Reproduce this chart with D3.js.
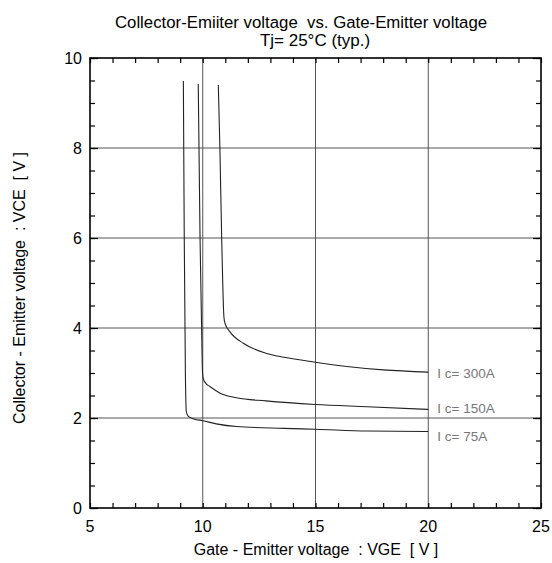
<!DOCTYPE html>
<html lang="en">
<head>
<meta charset="UTF-8">
<title>Collector-Emitter voltage vs. Gate-Emitter voltage</title>
<script src="https://cdn.jsdelivr.net/npm/d3@7"></script>
<style>
  body { margin: 0; background: #fff; }
  svg text { font-family: 'Liberation Sans', Arial, sans-serif; fill: #000; }
  .grid line { stroke: #555; stroke-width: 1; }
  .curve { fill: none; stroke: #222; stroke-width: 1.1; }
  .lbl { fill: #777; font-size: 13.5px; }
</style>
</head>
<body>
<svg id="chart" width="552" height="563"></svg>
<script>
// values: [VGE, VCE]
const curve75 = [[9.14,9.49],[9.18,6.0],[9.23,3.0],[9.27,2.15],[9.35,2.04],[9.6,1.98],[10.0,1.94],
  [10.6,1.87],[11.5,1.81],[13.6,1.77],[15.0,1.75],[17.3,1.71],[20,1.70]];
const curve150 = [[9.80,9.42],[9.88,6.0],[9.95,4.0],[9.99,3.0],[10.02,2.88],[10.12,2.78],[10.32,2.70],
  [10.77,2.55],[11.5,2.45],[12.8,2.38],[15.0,2.30],[17.3,2.25],[20,2.19]];
const curve300 = [[10.69,9.40],[10.76,8.0],[10.84,6.0],[10.94,4.24],[10.99,4.1],[11.2,3.92],[11.8,3.66],
  [12.8,3.44],[13.6,3.35],[15.0,3.24],[16.5,3.14],[18.0,3.07],[20,3.02]];
const curveNames = ["I c= 300A", "I c= 150A", "I c= 75A"];
const labelVce = [3.0, 2.22, 1.6];
const xTicks = [5, 10, 15, 20, 25];
const yTicks = [0, 2, 4, 6, 8, 10];

const svg = d3.select("#chart");
const x = d3.scaleLinear().domain([5, 25]).range([90, 541]);
const y = d3.scaleLinear().domain([0, 10]).range([508, 58]);

// grid
const grid = svg.append("g").attr("class", "grid");
grid.selectAll(".gx").data(xTicks.slice(1, -1)).join("line")
  .attr("x1", d => x(d)).attr("x2", d => x(d)).attr("y1", y(0)).attr("y2", y(10));
grid.selectAll(".gy").data(yTicks.slice(1, -1)).join("line")
  .attr("y1", d => y(d)).attr("y2", d => y(d)).attr("x1", x(5)).attr("x2", x(25));

// inward ticks on all four sides
const minorX = d3.range(5, 25.01, 1), minorY = d3.range(0, 10.01, 0.5);
function ticks(g, axis, vals, size) {
  g.call(axis.tickValues(vals).tickSize(-size).tickFormat(""));
  g.select(".domain").remove();
  g.selectAll("line").attr("stroke", "#000").attr("stroke-width", 1.2);
}
svg.append("g").attr("transform", `translate(0,${y(0)})`).call(g => ticks(g, d3.axisBottom(x), minorX, 5));
svg.append("g").attr("transform", `translate(0,${y(10)})`).call(g => ticks(g, d3.axisTop(x), minorX, 5));
svg.append("g").attr("transform", `translate(${x(5)},0)`).call(g => ticks(g, d3.axisLeft(y), minorY, 5));
svg.append("g").attr("transform", `translate(${x(25)},0)`).call(g => ticks(g, d3.axisRight(y), minorY, 5));
svg.append("g").attr("transform", `translate(${x(5)},0)`).call(g => ticks(g, d3.axisLeft(y), yTicks, 8));
svg.append("g").attr("transform", `translate(${x(25)},0)`).call(g => ticks(g, d3.axisRight(y), yTicks, 8));

// frame
svg.append("rect").attr("x", x(5)).attr("y", y(10))
  .attr("width", x(25) - x(5)).attr("height", y(0) - y(10))
  .attr("fill", "none").attr("stroke", "#000").attr("stroke-width", 1.6);

// tick labels
svg.selectAll(".xl").data(xTicks).join("text")
  .attr("x", d => x(d)).attr("y", 532).attr("text-anchor", "middle")
  .attr("font-size", 16).text(d => d);
svg.selectAll(".yl").data(yTicks).join("text")
  .attr("x", 82).attr("y", d => y(d) + 6).attr("text-anchor", "end")
  .attr("font-size", 16).text(d => d);

// curves
const line = d3.line().x(d => x(d[0])).y(d => y(d[1])).curve(d3.curveMonotoneX);
svg.selectAll(".curve").data([curve300, curve150, curve75]).join("path")
  .attr("class", "curve").attr("d", line);

svg.selectAll(".lbl").data(curveNames).join("text")
  .attr("class", "lbl").attr("x", x(20.4)).attr("y", (d, i) => y(labelVce[i]) + 5)
  .text(d => d);

// titles
svg.append("text").attr("x", 301).attr("y", 28).attr("text-anchor", "middle")
  .attr("font-size", 16.8).style("white-space", "pre")
  .text("Collector-Emiiter voltage  vs. Gate-Emitter voltage");
svg.append("text").attr("x", 315).attr("y", 46).attr("text-anchor", "middle")
  .attr("font-size", 17).text("Tj= 25°C (typ.)");
svg.append("text").attr("x", 316).attr("y", 555).attr("text-anchor", "middle")
  .attr("font-size", 16).style("white-space", "pre")
  .text("Gate - Emitter voltage  : VGE  [ V ]");
svg.append("text").attr("transform", "translate(25,288) rotate(-90)").attr("text-anchor", "middle")
  .attr("font-size", 16).style("white-space", "pre")
  .text("Collector - Emitter voltage  : VCE  [ V ]");
</script>
</body>
</html>
